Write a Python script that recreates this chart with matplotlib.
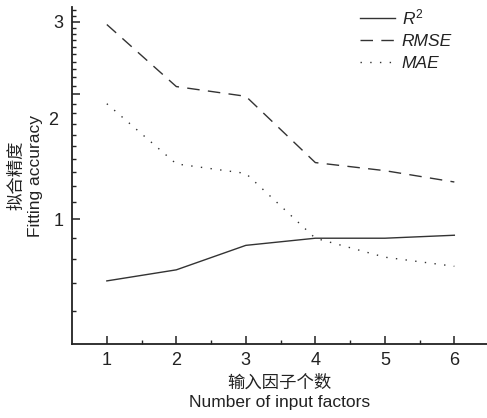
import matplotlib
matplotlib.use("Agg")
import matplotlib.pyplot as plt
from matplotlib.ticker import FixedLocator, NullFormatter
import matplotlib.transforms as mtransforms

x = [1, 2, 3, 4, 5, 6]
r2 = [0.71, 0.755, 0.865, 0.90, 0.90, 0.915]
rmse = [2.95, 2.09, 1.98, 1.37, 1.31, 1.23]
mae = [1.90, 1.36, 1.29, 0.90, 0.81, 0.77]
series_labels = [r'$R^2$', 'RMSE', 'MAE']
y_major = [1, 2, 3]
y_minor = [0.6, 0.7, 0.8, 0.9, 1.1, 1.2, 1.3, 1.4, 1.5, 1.6, 1.7, 1.8, 1.9,
           2.1, 2.2, 2.3, 2.4, 2.5, 2.6, 2.7, 2.8, 2.9, 3.1, 3.2]
x_minor = [1.5, 2.5, 3.5, 4.5, 5.5]

plt.rcParams['font.family'] = ['Liberation Sans', 'Noto Sans CJK SC']
plt.rcParams['mathtext.fontset'] = 'custom'
plt.rcParams['mathtext.it'] = 'Liberation Sans:italic'
plt.rcParams['mathtext.rm'] = 'Liberation Sans'

fig = plt.figure(figsize=(4.87, 4.18), dpi=100)
ax = fig.add_axes([0.148, 0.177, 0.852, 0.806])

c = '#333333'
ax.plot(x, r2, color=c, lw=1.0, ls='-', label=series_labels[0])
ax.plot(x, rmse, color=c, lw=1.0, ls=(0, (9, 6)), label=series_labels[1])
ax.plot(x, mae, color=c, lw=1.0, ls=(0, (1, 6)), label=series_labels[2])

ax.set_yscale('log')
ax.set_ylim(0.5, 3.25)
ax.set_xlim(0.5, 6.47)

ax.yaxis.set_major_locator(FixedLocator(y_major))
ax.yaxis.set_minor_locator(FixedLocator(y_minor))
ax.yaxis.set_minor_formatter(NullFormatter())
ax.set_yticklabels(['1', '', '3'])
trans = mtransforms.blended_transform_factory(ax.transAxes, ax.transData)
ax.text(-0.033, 1.73, '2', transform=trans, ha='right', va='center', fontsize=13, color='#222222')

ax.set_xticks(x)
ax.xaxis.set_minor_locator(FixedLocator(x_minor))

for s in ['top', 'right']:
    ax.spines[s].set_visible(False)
for s in ['left', 'bottom']:
    ax.spines[s].set_linewidth(1.3)
    ax.spines[s].set_color('#222222')

ax.tick_params(axis='both', which='major', direction='in', length=6, width=1.1,
               labelsize=13, colors='#222222', pad=6)
ax.tick_params(axis='both', which='minor', direction='in', length=3, width=1.0, colors='#222222')

ax.set_xlabel('输入因子个数\nNumber of input factors', fontsize=12.5, color='#222222',
              linespacing=1.3, labelpad=4)
ax.set_ylabel('拟合精度\nFitting accuracy', fontsize=12.5, color='#222222',
              linespacing=1.3, labelpad=8)

leg = ax.legend(loc='upper right', bbox_to_anchor=(0.953, 1.045), frameon=False,
                fontsize=12.5, handlelength=2.0, handletextpad=0.4, labelspacing=0.38)
for t in leg.get_texts():
    t.set_style('italic')
    t.set_color('#222222')

fig.savefig('out.png', dpi=100)
